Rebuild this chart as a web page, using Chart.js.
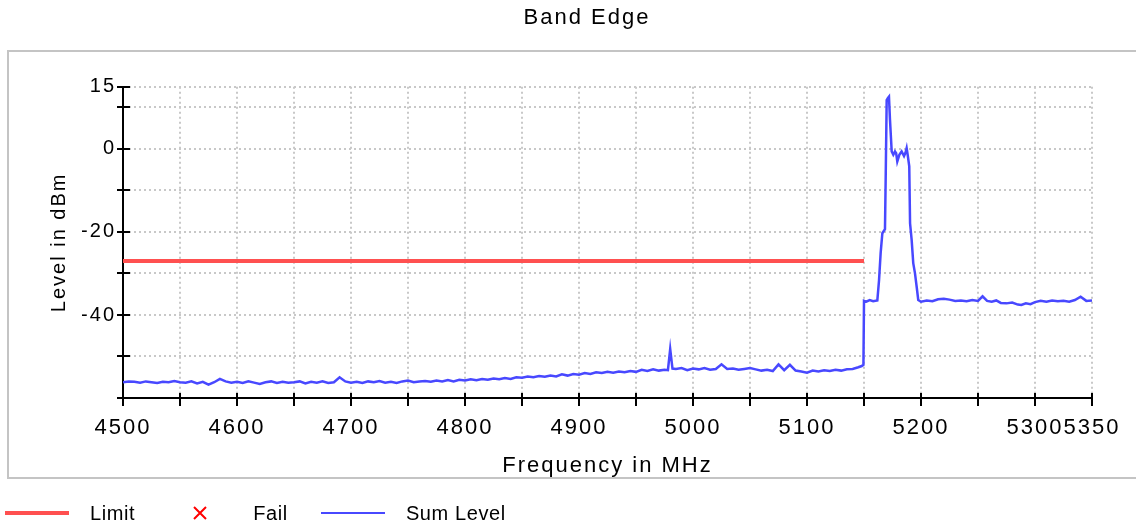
<!DOCTYPE html>
<html>
<head>
<meta charset="utf-8">
<title>Band Edge</title>
<script src="https://cdn.jsdelivr.net/npm/chart.js@4.4.1/dist/chart.umd.min.js"></script>
<style>
  html, body { margin: 0; padding: 0; background: #fff; overflow: hidden; }
  #wrap { position: relative; width: 1136px; height: 528px; }
  #frame { position: absolute; left: 7px; top: 50px; width: 1150px; height: 425px; border: 2px solid #c4c4c4; }
  #myChart { position: absolute; left: 0; top: 0; }
  #legend { position: absolute; left: 5px; top: 500px; height: 26px; display: flex; align-items: center;
            font: 20px 'Liberation Sans', Arial, sans-serif; letter-spacing: 0.6px; color: #000; }
  .item { display: flex; align-items: center; margin-right: 33px; }
  .item canvas { margin-right: 21px; }
</style>
</head>
<body>
<div id="wrap">
  <div id="frame"></div>
  <canvas id="myChart" width="1136" height="528"></canvas>
  <div id="legend"></div>
</div>
<script>
// axis ticks (every tick gets a mark + grid line, only some get a label)
const xTicks = [4500, 4550, 4600, 4650, 4700, 4750, 4800, 4850, 4900, 4950, 5000,
                5050, 5100, 5150, 5200, 5250, 5300, 5350];
const xLabels = [4500, 4600, 4700, 4800, 4900, 5000, 5100, 5200, 5300, 5350];
const yTicks = [-60, -50, -40, -30, -20, -10, 0, 10, 15];
const yLabels = [15, 0, -20, -40];

// limit line
const limitFreq = [4500, 5150];
const limitLevel = [-27, -27];

// measured trace (MHz / dBm)
const sumFreq = [
  4500, 4505, 4510, 4515, 4520, 4525, 4530, 4535, 4540, 4545,
  4550, 4555, 4560, 4565, 4570, 4575, 4580, 4585, 4590, 4595,
  4600, 4605, 4610, 4615, 4620, 4625, 4630, 4635, 4640, 4645,
  4650, 4655, 4660, 4665, 4670, 4675, 4680, 4685, 4690, 4695,
  4700, 4705, 4710, 4715, 4720, 4725, 4730, 4735, 4740, 4745,
  4750, 4755, 4760, 4765, 4770, 4775, 4780, 4785, 4790, 4795,
  4800, 4805, 4810, 4815, 4820, 4825, 4830, 4835, 4840, 4845,
  4850, 4855, 4860, 4865, 4870, 4875, 4880, 4885, 4890, 4895,
  4900, 4905, 4910, 4915, 4920, 4925, 4930, 4935, 4940, 4945,
  4950, 4955, 4960, 4965, 4970, 4975, 4978, 4980, 4982, 4985,
  4990, 4995, 5000, 5005, 5010, 5015, 5020, 5025, 5030, 5035,
  5040, 5045, 5050, 5055, 5060, 5065, 5070, 5075, 5080, 5085,
  5090, 5095, 5100, 5105, 5110, 5115, 5120, 5125, 5130, 5135,
  5140, 5145, 5148, 5149.5, 5150, 5152, 5155, 5158, 5161.7, 5163.2,
  5164.6, 5166.1, 5168.4, 5169.0, 5169.9, 5171.0, 5171.9, 5172.8, 5174.3, 5175.7,
  5177.2, 5178.2, 5179.2, 5181.0, 5183.0, 5185.1, 5186.5, 5187.4, 5188.3, 5189.7,
  5190.4, 5191.8, 5193.2, 5194.7, 5196.2, 5197.6, 5200, 5205, 5210, 5215,
  5220, 5225, 5230, 5235, 5240, 5245, 5250, 5254, 5258, 5262,
  5266, 5270, 5275, 5280, 5285, 5288, 5292, 5296, 5300, 5305,
  5310, 5315, 5320, 5325, 5330, 5335, 5340, 5345, 5350
];
const sumLevel = [
  -56.2, -56.0, -56.1, -56.3, -56.0, -56.2, -56.4, -56.1, -56.2, -55.9,
  -56.2, -56.3, -56.0, -56.5, -56.1, -56.8, -56.2, -55.4, -56.0, -56.3,
  -56.1, -56.4, -56.0, -56.3, -56.6, -56.2, -56.0, -56.4, -56.1, -56.3,
  -56.2, -56.0, -56.5, -56.1, -56.3, -56.0, -56.4, -56.2, -55.0, -56.0,
  -56.3, -56.1, -56.4, -56.0, -56.2, -55.9, -56.3, -56.1, -56.4, -56.0,
  -55.8, -56.2, -56.0, -55.9, -56.1, -55.8, -56.0, -55.7, -56.0, -55.6,
  -55.8, -55.5, -55.7, -55.4, -55.6, -55.3, -55.5, -55.2, -55.4, -55.0,
  -55.1, -54.8, -55.0, -54.7, -54.9, -54.6, -54.8, -54.3, -54.6, -54.2,
  -54.4, -54.0, -54.2, -53.8, -54.0, -53.7, -53.9, -53.6, -53.8, -53.5,
  -53.7, -53.2, -53.5, -53.1, -53.4, -53.2, -53.3, -48.2, -52.9, -53.0,
  -52.8, -53.3, -52.9, -53.1, -52.8, -53.2, -53.0, -51.9, -53.0, -52.9,
  -53.2, -53.0, -52.8, -53.1, -53.4, -53.2, -53.5, -51.9, -53.3, -52.0,
  -53.4, -53.6, -53.9, -53.4, -53.6, -53.3, -53.5, -53.2, -53.4, -53.1,
  -53.0, -52.6, -52.3, -52.0, -36.6, -36.8, -36.4, -36.7, -36.5, -31.6,
  -25.1, -20.3, -19.3, -7.5, 11.8, 12.3, 12.6, 7.0, -0.6, -1.4,
  -0.6, -1.0, -3.0, -1.4, -0.6, -1.7, -0.8, 0.2, -1.4, -4.2,
  -17.9, -21.9, -27.5, -29.9, -33.2, -36.4, -36.8, -36.5, -36.7, -36.2,
  -36.1, -36.3, -36.6, -36.5, -36.7, -36.4, -36.6, -35.5, -36.6, -36.8,
  -36.5, -37.1, -37.2, -37.0, -37.5, -37.6, -37.2, -37.4, -36.9, -36.6,
  -36.8, -36.5, -36.7, -36.6, -36.8, -36.4, -35.6, -36.6, -36.5
];

const FONT = "'Liberation Sans', Arial, sans-serif";
Chart.defaults.font.family = FONT;
Chart.defaults.color = '#000';

// wide letter spacing like the original plot
const spacing = {
  id: 'spacing',
  beforeDraw(chart) { chart.ctx.letterSpacing = '2px'; }
};

// tick marks cross the axis line, chart.js only draws the outer half
const innerTicks = {
  id: 'innerTicks',
  afterDraw(chart) {
    const ctx = chart.ctx;
    const x = chart.scales.x, y = chart.scales.y;
    ctx.save();
    ctx.strokeStyle = '#000';
    ctx.lineWidth = 2;
    ctx.beginPath();
    x.ticks.forEach(t => {
      const px = Math.round(x.getPixelForValue(t.value));
      ctx.moveTo(px, y.bottom);
      ctx.lineTo(px, y.bottom - 5);
    });
    y.ticks.forEach(t => {
      const py = Math.round(y.getPixelForValue(t.value));
      ctx.moveTo(x.left, py);
      ctx.lineTo(x.left + 7, py);
    });
    ctx.stroke();
    ctx.restore();
  }
};

const data = {
  datasets: [{
    label: 'Limit',
    data: limitFreq.map((f, i) => ({x: f, y: limitLevel[i]})),
    borderColor: 'rgb(255, 80, 80)',
    borderWidth: 4,
    pointRadius: 0,
    order: 2
  }, {
    label: 'Fail',
    data: [],
    showLine: false,
    pointStyle: 'crossRot',
    borderColor: 'rgb(255, 0, 0)',
    borderWidth: 2
  }, {
    label: 'Sum Level',
    data: sumFreq.map((f, i) => ({x: f, y: sumLevel[i]})),
    borderColor: 'rgb(72, 72, 255)',
    borderWidth: 2.5,
    pointRadius: 0,
    tension: 0,
    order: 1
  }]
};

const gridStyle = {
  color: 'rgb(200, 200, 200)',
  lineWidth: 2,
  tickColor: '#000',
  tickWidth: 2
};

const config = {
  type: 'line',
  data,
  options: {
    responsive: false,
    animation: false,
    layout: { padding: { left: 82, right: 44, top: 5, bottom: 40 } },
    plugins: {
      legend: { display: false },
      tooltip: { enabled: false },
      title: {
        display: true,
        text: 'Band Edge',
        color: '#000',
        font: { size: 22, weight: 'normal' },
        padding: { top: 0, bottom: 55.3 }
      }
    },
    scales: {
      x: {
        type: 'linear',
        min: 4500,
        max: 5350,
        afterBuildTicks: s => { s.ticks = xTicks.map(v => ({value: v})); },
        afterFit: s => { s.height = 90; },
        ticks: {
          autoSkip: false,
          maxRotation: 0,
          padding: 8.5,
          font: { size: 22 },
          callback: v => xLabels.includes(v) ? String(v) : ''
        },
        grid: { ...gridStyle, tickLength: 8 },
        border: { color: '#000', width: 2, dash: [2, 3] },
        title: {
          display: true,
          text: 'Frequency in MHz',
          font: { size: 22 },
          padding: { top: 0, bottom: 8.8 }
        }
      },
      y: {
        min: -60,
        max: 15,
        afterBuildTicks: s => { s.ticks = yTicks.map(v => ({value: v})); },
        afterFit: s => { s.width = 41; },
        ticks: {
          padding: 1,
          font: { size: 20 },
          callback: v => yLabels.includes(v) ? String(v) : ''
        },
        grid: { ...gridStyle, tickLength: 6 },
        border: { color: '#000', width: 2, dash: [2, 3] },
        title: {
          display: true,
          text: 'Level in dBm',
          font: { size: 20 },
          padding: { top: -35, bottom: 0 }
        }
      }
    }
  },
  plugins: [spacing, innerTicks]
};

const myChart = new Chart(document.getElementById('myChart'), config);

// legend below the frame, built from the datasets
const legendBox = document.getElementById('legend');
myChart.data.datasets.forEach(ds => {
  const item = document.createElement('div');
  item.className = 'item';
  const c = document.createElement('canvas');
  c.width = 64;
  c.height = 24;
  const g = c.getContext('2d');
  g.strokeStyle = ds.borderColor;
  g.lineWidth = ds.label === 'Sum Level' ? 2 : ds.borderWidth;
  g.beginPath();
  if (ds.pointStyle === 'crossRot') {
    g.moveTo(26, 6); g.lineTo(38, 18);
    g.moveTo(38, 6); g.lineTo(26, 18);
  } else {
    g.moveTo(0, 12); g.lineTo(64, 12);
  }
  g.stroke();
  const txt = document.createElement('span');
  txt.textContent = ds.label;
  item.appendChild(c);
  item.appendChild(txt);
  legendBox.appendChild(item);
});
</script>
</body>
</html>
